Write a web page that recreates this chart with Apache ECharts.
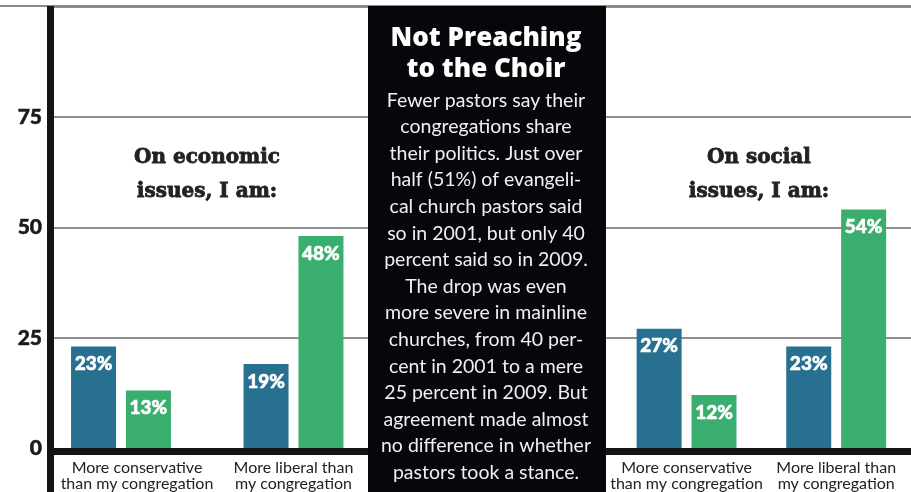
<!DOCTYPE html>
<html>
<head>
<meta charset="utf-8">
<script src="https://cdn.jsdelivr.net/npm/echarts@6/dist/echarts.min.js"></script>
<style>
  html, body { margin: 0; padding: 0; background: #ffffff; }
  #chart { width: 911px; height: 492px; }
</style>
</head>
<body>
<div id="chart"></div>
<script>
// Survey answers: pastors' politics relative to their congregation (%)
const categories = ['More conservative\nthan my congregation', 'More liberal than\nmy congregation'];
const seriesNames = ['2001', '2009'];
const economic2001 = [23, 19];
const economic2009 = [13, 48];
const social2001 = [27, 23];
const social2009 = [12, 54];
const panelTitles = ['On economic\nissues, I am:', 'On social\nissues, I am:'];
const boxTitle = 'Not Preaching\nto the Choir';
const boxText = [
  'Fewer pastors say their',
  'congregations share',
  'their politics. Just over',
  'half (51%) of evangeli-',
  'cal church pastors said',
  'so in 2001, but only 40',
  'percent said so in 2009.',
  'The drop was even',
  'more severe in mainline',
  'churches, from 40 per-',
  'cent in 2001 to a mere',
  '25 percent in 2009. But',
  'agreement made almost',
  'no difference in whether',
  'pastors took a stance.'
];

const BLUE = '#27708f';
const GREEN = '#39ae6e';
const TOP = 6.5, BOTTOM = 43.5;

const chart = echarts.init(document.getElementById('chart'), null, { renderer: 'canvas' });

function barSeries(name, data, color, axisIndex) {
  return {
    type: 'bar',
    name: name,
    data: data,
    xAxisIndex: axisIndex,
    yAxisIndex: axisIndex,
    barWidth: 45,
    barGap: '22%',
    itemStyle: { color: color },
    label: {
      show: true,
      position: 'insideTop',
      distance: 8,
      formatter: '{c}%',
      color: '#ffffff',
      fontFamily: 'Lato',
      fontWeight: 900,
      fontSize: 19,
      textBorderColor: '#ffffff',
      textBorderWidth: 0.6
    },
    silent: true
  };
}

function categoryLabel(shiftFirst) {
  const base = { fontFamily: 'Lato', fontSize: 16, lineHeight: 16, color: '#222222' };
  return {
    color: '#222222',
    fontFamily: 'Lato',
    fontSize: 16,
    lineHeight: 16,
    margin: 12,
    interval: 0,
    formatter: function (value, index) {
      const key = (shiftFirst && index === 0) ? 's' : 'n';
      return value.split('\n').map(l => '{' + key + '|' + l + '}').join('\n');
    },
    rich: {
      n: Object.assign({}, base),
      s: Object.assign({ padding: [0, 0, 0, 32] }, base)
    }
  };
}

const panelTitleStyle = {
  fontFamily: 'DejaVu Serif', fontWeight: 'bold', fontSize: 20, lineHeight: 34,
  color: '#222222', textBorderColor: '#222222', textBorderWidth: 0.8
};

const option = {
  backgroundColor: '#ffffff',
  animation: false,
  title: [
    { text: panelTitles[0], left: 207, top: 141, textAlign: 'center', padding: 0, textStyle: panelTitleStyle },
    { text: panelTitles[1], left: 759, top: 141, textAlign: 'center', padding: 0, textStyle: panelTitleStyle },
    {
      text: boxTitle, subtext: boxText.join('\n'),
      left: 486, top: 23, textAlign: 'center', padding: 0, itemGap: 2, z: 60,
      textStyle: { fontFamily: 'Open Sans', fontWeight: 800, fontSize: 26, lineHeight: 31, color: '#ffffff' },
      subtextStyle: { fontFamily: 'Lato', fontSize: 19.5, lineHeight: 26.6, color: '#f0f0f0' }
    }
  ],
  grid: [
    { left: 54, right: 0, top: TOP, bottom: BOTTOM },
    { left: 34.75, width: 345, top: TOP, bottom: BOTTOM },
    { left: 611.75, width: 315, top: TOP, bottom: BOTTOM }
  ],
  xAxis: [
    {
      gridIndex: 0, type: 'value', min: 0, max: 1, offset: 3,
      axisLine: { show: true, onZero: false, lineStyle: { color: '#141414', width: 7 } },
      axisTick: { show: false }, axisLabel: { show: false }, splitLine: { show: false }
    },
    {
      gridIndex: 1, type: 'category', data: categories,
      axisLine: { show: false }, axisTick: { show: false },
      axisLabel: categoryLabel(true)
    },
    {
      gridIndex: 2, type: 'category', data: categories,
      axisLine: { show: false }, axisTick: { show: false },
      axisLabel: categoryLabel(false)
    }
  ],
  yAxis: [
    {
      gridIndex: 0, type: 'value', min: 0, max: 100, interval: 25,
      axisLine: { show: false }, axisTick: { show: false },
      axisLabel: {
        margin: 12,
        color: '#1a1a1a',
        fontFamily: 'Lato',
        fontWeight: 900,
        fontSize: 21,
        padding: [6, 0, 0, 0],
        textBorderColor: '#1a1a1a',
        textBorderWidth: 0.5,
        formatter: v => (v === 100 ? '' : String(v))
      },
      splitLine: { show: true, lineStyle: { color: '#6a6a6a', width: 1.5 } }
    },
    { gridIndex: 1, type: 'value', min: 0, max: 100, show: false },
    { gridIndex: 2, type: 'value', min: 0, max: 100, show: false }
  ],
  series: [
    barSeries(seriesNames[0], economic2001, BLUE, 1),
    barSeries(seriesNames[1], economic2009, GREEN, 1),
    barSeries(seriesNames[0], social2001, BLUE, 2),
    barSeries(seriesNames[1], social2009, GREEN, 2)
  ],
  graphic: [
    // top rule across the page
    { type: 'line', z: 40, shape: { x1: 0, y1: 6, x2: 911, y2: 6 }, style: { stroke: '#8a8a8a', lineWidth: 2 } },
    // vertical value axis bar
    { type: 'rect', z: 45, shape: { x: 47, y: 6, width: 7, height: 486 }, style: { fill: '#141414' } },
    // black text panel in the middle
    { type: 'rect', z: 50, shape: { x: 368, y: 6, width: 238, height: 486 }, style: { fill: '#06060b' } }
  ]
};

chart.setOption(option);
</script>
</body>
</html>
